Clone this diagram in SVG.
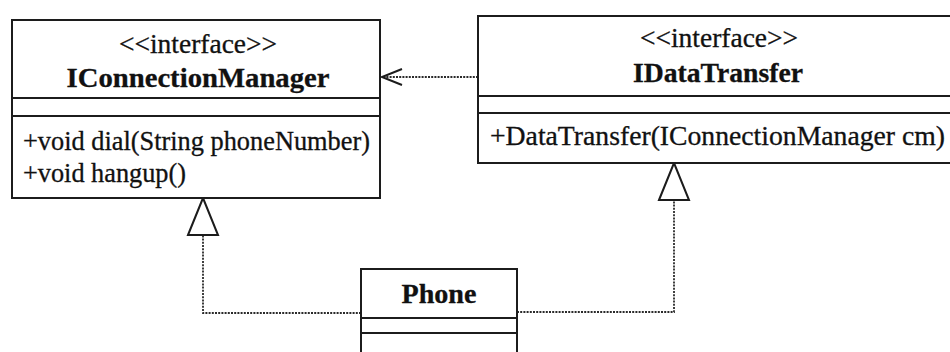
<svg xmlns="http://www.w3.org/2000/svg" width="950" height="352" viewBox="0 0 950 352">
  <style>
    .box { fill: #fff; stroke: #1c1c1c; stroke-width: 2; }
    .sep { stroke: #1c1c1c; stroke-width: 2; fill: none; }
    .t { font-family: "Liberation Serif", "Times New Roman", serif; font-size: 26.5px; fill: #111; stroke: #111; stroke-width: 0.3; }
    .b { font-weight: bold; font-size: 27px; }
    .c { text-anchor: middle; }
    .dot { fill: none; stroke: #2a2a2a; stroke-width: 1.8; stroke-dasharray: 2 1.2; }
    .head { fill: #fff; stroke: #1c1c1c; stroke-width: 2; stroke-dasharray: none; stroke-linejoin: miter; }
    .open { fill: none; stroke: #1c1c1c; stroke-width: 2; stroke-dasharray: none; }
  </style>
  <defs>
    <marker id="tri" markerUnits="userSpaceOnUse" markerWidth="44" markerHeight="36" viewBox="-2 -2 44 36" refX="37" refY="15" orient="auto">
      <path class="head" d="M0,0 L37,15 L0,30 Z"/>
    </marker>
    <marker id="arrow" markerUnits="userSpaceOnUse" markerWidth="26" markerHeight="22" viewBox="-2 -2 26 22" refX="20" refY="8" orient="auto">
      <path class="open" d="M0,0 L20,8 L0,16"/>
    </marker>
  </defs>
  <rect width="950" height="352" fill="#fff"/>

  <g id="connectors">
    <path class="dot" d="M478,77 L382,77" marker-end="url(#arrow)"/>
    <path class="dot" d="M361,313 L203,313 L203,198" marker-end="url(#tri)"/>
    <path class="dot" d="M517,312 L674,312 L674,163" marker-end="url(#tri)"/>
  </g>

  <g id="IConnectionManager">
    <rect class="box" x="12" y="20" width="368" height="178"/>
    <line class="sep" x1="12" y1="98" x2="380" y2="98"/>
    <line class="sep" x1="12" y1="116" x2="380" y2="116"/>
    <text class="t c" x="198" y="53" textLength="158" lengthAdjust="spacingAndGlyphs">&lt;&lt;interface&gt;&gt;</text>
    <text class="t b c" x="198" y="87" textLength="263" lengthAdjust="spacingAndGlyphs">IConnectionManager</text>
    <text class="t" x="23" y="150" textLength="347" lengthAdjust="spacingAndGlyphs">+void dial(String phoneNumber)</text>
    <text class="t" x="23" y="182" textLength="163" lengthAdjust="spacingAndGlyphs">+void hangup()</text>
  </g>

  <g id="IDataTransfer">
    <rect class="box" x="478" y="16" width="484" height="147"/>
    <line class="sep" x1="478" y1="96" x2="962" y2="96"/>
    <line class="sep" x1="478" y1="113" x2="962" y2="113"/>
    <text class="t c" x="719" y="47" textLength="158" lengthAdjust="spacingAndGlyphs">&lt;&lt;interface&gt;&gt;</text>
    <text class="t b c" x="718" y="82" textLength="170" lengthAdjust="spacingAndGlyphs">IDataTransfer</text>
    <text class="t" x="490" y="145" textLength="455" lengthAdjust="spacingAndGlyphs">+DataTransfer(IConnectionManager cm)</text>
  </g>

  <g id="Phone">
    <rect class="box" x="361" y="269" width="156" height="95"/>
    <line class="sep" x1="361" y1="318" x2="517" y2="318"/>
    <line class="sep" x1="361" y1="333" x2="517" y2="333"/>
    <text class="t b c" x="439" y="303" textLength="75" lengthAdjust="spacingAndGlyphs">Phone</text>
  </g>
</svg>
